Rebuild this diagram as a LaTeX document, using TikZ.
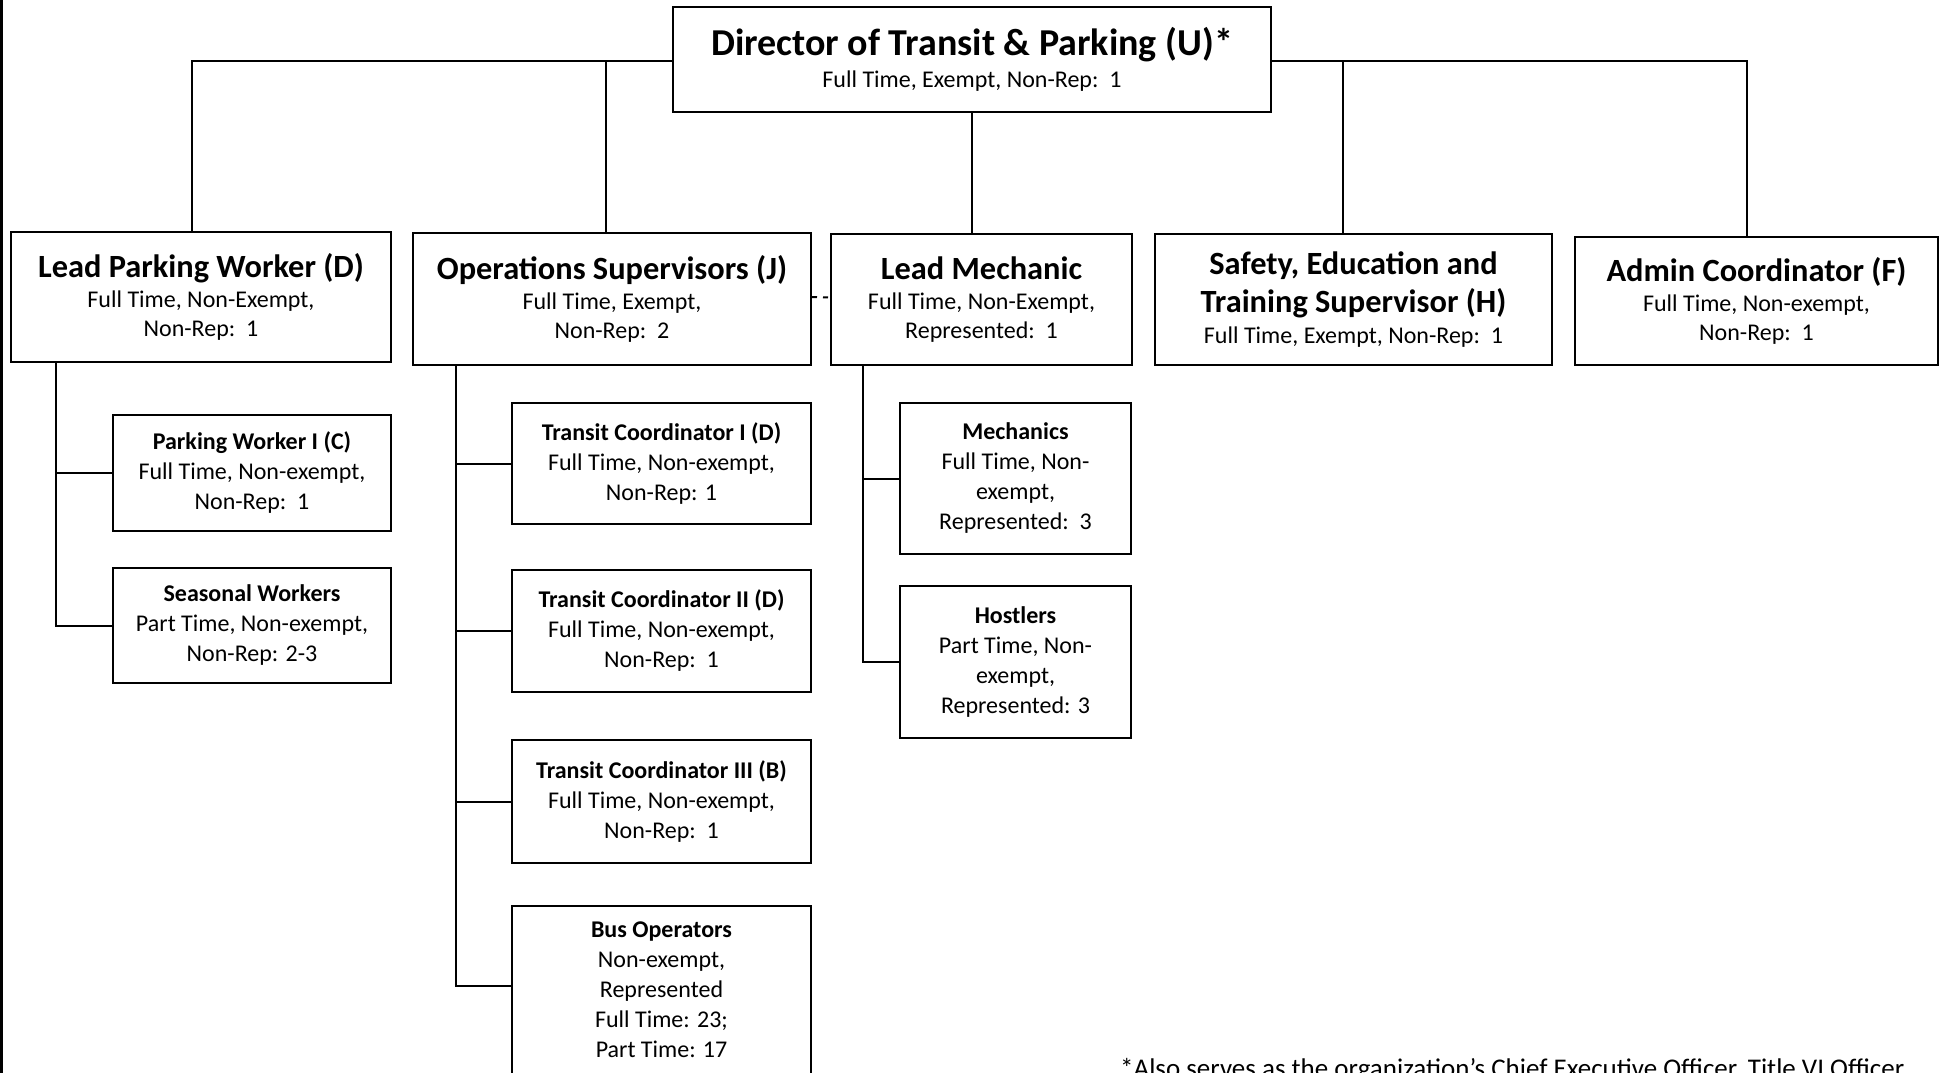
\documentclass[tikz,border=0pt]{standalone}
\usepackage{fontspec}
\setmainfont{Carlito}
\usetikzlibrary{positioning}
\newcommand{\topttl}[1]{{\fontsize{38}{40}\selectfont\bfseries #1}}
\newcommand{\midttl}[1]{{\fontsize{32.4}{36}\selectfont\bfseries #1}}
\newcommand{\lowttl}[1]{{\fontsize{24}{30}\selectfont\bfseries #1}}
\tikzset{
  box/.style={draw, line width=2pt, align=center, inner sep=0pt, font=\fontsize{24}{29}\selectfont},
  subbox/.style={box, font=\fontsize{24}{30}\selectfont},
  link/.style={line width=2pt}
}
\begin{document}
\begin{tikzpicture}[x=1pt, y=-1pt]
\useasboundingbox (0,0) rectangle (1944,1073);
\clip (0,0) rectangle (1944,1073);
\fill (0,0) rectangle (3,1073);

\node[box, minimum width=598, minimum height=105] (dir) at (972,59.5) {\topttl{Director of Transit \& Parking (U)*}\\[3pt] Full Time, Exempt, Non-Rep:\ \ 1};

\node[box, minimum width=380, minimum height=130] (lpw) at (201,297) {\midttl{Lead Parking Worker (D)}\\[1pt] Full Time, Non-Exempt,\\ Non-Rep:\ \ 1};
\node[box, minimum width=398, minimum height=132] (ops) at (612,299) {\midttl{Operations Supervisors (J)}\\[1pt] Full Time, Exempt,\\ Non-Rep:\ \ 2};
\node[box, minimum width=301, minimum height=131] (lm) at (981.5,299.5) {\midttl{Lead Mechanic}\\[1pt] Full Time, Non-Exempt,\\ Represented:\ \ 1};
\node[box, minimum width=397, minimum height=131] (safe) at (1353.5,299.5) {\midttl{Safety, Education and}\\[7.5pt] \midttl{Training Supervisor (H)}\\[1.5pt] Full Time, Exempt, Non-Rep:\ \ 1};
\node[box, minimum width=363, minimum height=128] (adm) at (1756.5,301) {\midttl{Admin Coordinator (F)}\\[1pt] Full Time, Non-exempt,\\ Non-Rep:\ \ 1};

\node[subbox, minimum width=278, minimum height=116] (pw1) at (252,473) {\lowttl{Parking Worker I (C)}\\ Full Time, Non-exempt,\\ Non-Rep:\ \ 1};
\node[subbox, minimum width=278, minimum height=115] (sea) at (252,625.5) {\lowttl{Seasonal Workers}\\ Part Time, Non-exempt,\\ Non-Rep: 2-3};

\node[subbox, minimum width=299, minimum height=121] (tc1) at (661.5,463.5) {\lowttl{Transit Coordinator I (D)}\\ Full Time, Non-exempt,\\ Non-Rep: 1};
\node[subbox, minimum width=299, minimum height=122] (tc2) at (661.5,631) {\lowttl{Transit Coordinator II (D)}\\ Full Time, Non-exempt,\\ Non-Rep:\ \ 1};
\node[subbox, minimum width=299, minimum height=123] (tc3) at (661.5,801.5) {\lowttl{Transit Coordinator III (B)}\\ Full Time, Non-exempt,\\ Non-Rep:\ \ 1};
\node[subbox, minimum width=299, minimum height=200, anchor=north] (bus) at (661.5,905) {};
\node[align=center, inner sep=0pt, font=\fontsize{24}{30}\selectfont] (bustxt) at (661.5,990) {\lowttl{Bus Operators}\\ Non-exempt,\\ Represented\\ Full Time: 23;\\ Part Time: 17};

\node[subbox, minimum width=231, minimum height=151] (mech) at (1015.5,478.5) {\lowttl{Mechanics}\\ Full Time, Non-\\ exempt,\\ Represented:\ \ 3};
\node[subbox, minimum width=231, minimum height=152] (host) at (1015.5,662) {\lowttl{Hostlers}\\ Part Time, Non-\\ exempt,\\ Represented: 3};

\node[anchor=base west, inner sep=0pt, font=\fontsize{27}{32}\selectfont] (note) at (1120,1077) {*Also serves as the organization’s Chief Executive Officer, Title VI Officer};

\draw[link] ([yshift=-1.5pt]dir.west) -| ([xshift=-9pt]lpw.north);
\draw[link] ([xshift=-6pt]ops.north) -- ([xshift=-6pt,yshift=-1.5pt]ops.north |- dir.west);
\draw[link] (dir.south) -- (dir.south |- lm.north);
\draw[link] ([yshift=-1.5pt]dir.east) -| ([xshift=-9.5pt]adm.north);
\draw[link] ([xshift=-10.5pt]safe.north) -- ([xshift=-10.5pt,yshift=-1.5pt]safe.north |- dir.east);
\draw[link, dash pattern=on 5pt off 6pt] ([yshift=2pt]ops.east) -- ([yshift=2pt]lm.west);

\coordinate (lpwroot) at ([xshift=-145pt]lpw.south);
\draw[link] (lpwroot) |- (sea.west);
\draw[link] (lpwroot |- pw1.west) -- (pw1.west);

\coordinate (opsroot) at ([xshift=-156pt]ops.south);
\draw[link] (opsroot) |- ([yshift=4pt]bus.west |- bustxt.west);
\draw[link] (opsroot |- tc1.west) -- (tc1.west);
\draw[link] (opsroot |- tc2.west) -- (tc2.west);
\draw[link] (opsroot |- tc3.west) -- (tc3.west);

\coordinate (lmroot) at ([xshift=-118.5pt]lm.south);
\draw[link] (lmroot) |- (host.west);
\draw[link] (lmroot |- mech.west) -- (mech.west);
\end{tikzpicture}
\end{document}
